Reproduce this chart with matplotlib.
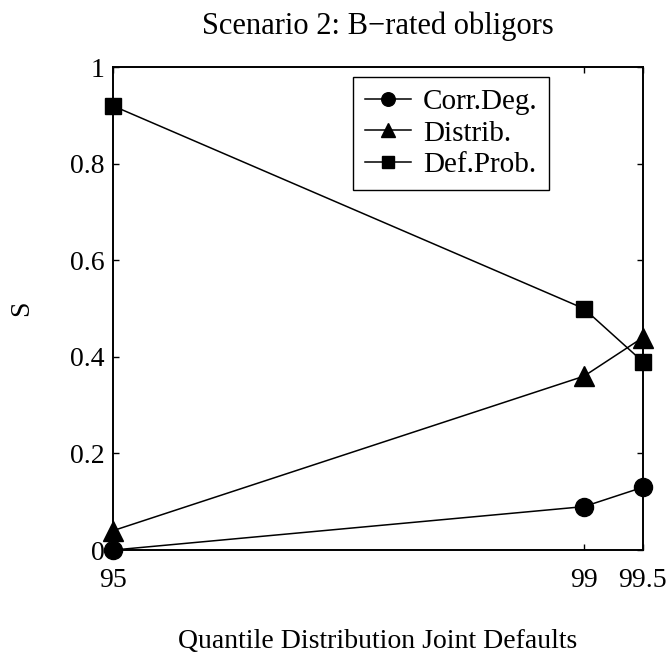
import matplotlib
matplotlib.use("Agg")
import matplotlib.pyplot as plt

# quantile levels and sensitivity values per scenario factor
quantiles = [95, 99, 99.5]
corr_deg = [0.0, 0.09, 0.13]
distrib = [0.04, 0.36, 0.44]
def_prob = [0.92, 0.50, 0.39]

x_ticks = [95, 99, 99.5]
x_tick_labels = ["95", "99", "99.5"]
y_ticks = [0, 0.2, 0.4, 0.6, 0.8, 1]
y_tick_labels = ["0", "0.2", "0.4", "0.6", "0.8", "1"]

plt.rcParams['font.family'] = ['Liberation Serif', 'DejaVu Serif']
plt.rcParams['font.size'] = 20

fig = plt.figure(figsize=(6.71, 6.58), dpi=100)
ax = fig.add_axes([0.168, 0.164, 0.790, 0.734])

ax.plot(quantiles, corr_deg, color='k', lw=1.1, marker='o', ms=13,
        label='Corr.Deg.', clip_on=False, zorder=3)
ax.plot(quantiles, distrib, color='k', lw=1.1, marker='^', ms=14,
        label='Distrib.', clip_on=False, zorder=3)
ax.plot(quantiles, def_prob, color='k', lw=1.1, marker='s', ms=11,
        label='Def.Prob.', clip_on=False, zorder=3)

ax.set_xlim(95, 99.5)
ax.set_ylim(0, 1)
ax.set_xticks(x_ticks)
ax.set_xticklabels(x_tick_labels)
ax.set_yticks(y_ticks)
ax.set_yticklabels(y_tick_labels)
ax.tick_params(direction='in', top=True, right=True, length=4.5, width=1,
               labelsize=20)
ax.tick_params(axis='x', pad=13)
ax.tick_params(axis='y', pad=6)
for s in ax.spines.values():
    s.set_linewidth(1.4)

ax.set_title("Scenario 2: B\u2212rated obligors", fontsize=22, pad=24)
ax.set_xlabel("Quantile Distribution Joint Defaults", fontsize=20, labelpad=26)
ax.set_ylabel("S", fontsize=20, labelpad=26)

leg = ax.legend(loc='upper left', bbox_to_anchor=(0.453, 0.98),
                markerscale=0.75, handlelength=1.6, frameon=True,
                fancybox=False, edgecolor='k', framealpha=1,
                borderpad=0.4, labelspacing=0.18, handletextpad=0.4,
                borderaxespad=0.0, fontsize=21)
leg.get_frame().set_linewidth(1.0)

fig.savefig("out.png", dpi=100)
